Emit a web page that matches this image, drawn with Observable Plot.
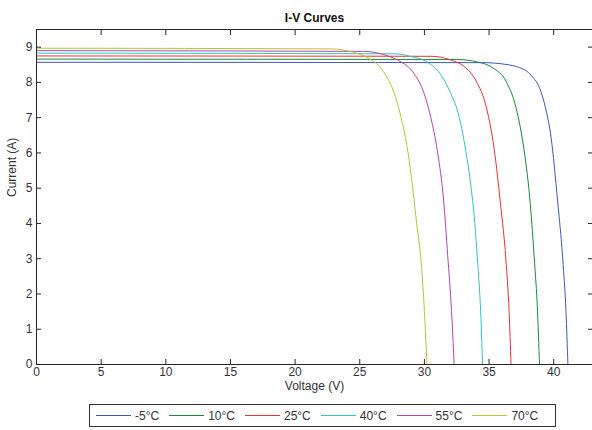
<!DOCTYPE html>
<html>
<head>
<meta charset="utf-8">
<script src="https://cdn.jsdelivr.net/npm/d3@7"></script>
<script src="https://cdn.jsdelivr.net/npm/@observablehq/plot@0.6"></script>
<style>
  html, body { margin: 0; padding: 0; background: #fff; }
  body { width: 592px; height: 430px; overflow: hidden; font-family: "Liberation Sans", Arial, sans-serif; }
  #legend { margin: 6px 0 0 89px; width: 459px; height: 21px; border: 1px solid #333;
            display: flex; align-items: center; padding-left: 6px; box-sizing: content-box;
            font-size: 12px; color: #333; }
  #legend .item { display: flex; align-items: center; margin-right: 10px; }
  #legend svg { margin-right: 4px; display: block; }
</style>
</head>
<body>
<div id="chart"></div>
<div id="legend"></div>
<script>
// Series labels and colours
const temps = ["-5°C", "10°C", "25°C", "40°C", "55°C", "70°C"];
const colors = ["#3f57c0", "#1a8a3c", "#f03030", "#2cc6c6", "#b046b0", "#c2c22c"];

// Voltage (V) / Current (A) points
const vM5 = [0, 34.5, 36.3, 37.35, 37.9, 38.4, 38.9, 39.35, 39.8, 40.3, 40.7, 40.95, 41.1];
const iM5 = [8.57, 8.56, 8.51, 8.42, 8.32, 8.14, 7.85, 7.3, 6.43, 4.64, 2.99, 1.5, 0];

const v10 = [0, 32.5, 34.1, 35.3, 36.3, 37.0, 37.35, 37.7, 38.2, 38.5, 38.75, 38.9];
const i10 = [8.66, 8.65, 8.58, 8.41, 8.04, 7.4, 6.85, 6.1, 4.5, 2.99, 1.5, 0];

const v25 = [0, 30.5, 32.0, 33.2, 34.0, 34.8, 35.4, 35.9, 36.3, 36.55, 36.7];
const i25 = [8.75, 8.74, 8.64, 8.41, 8.04, 7.28, 6.1, 4.5, 2.99, 1.5, 0];

const v40 = [0, 27.8, 29.0, 30.1, 31.2, 31.95, 32.7, 33.2, 33.55, 33.9, 34.1, 34.35, 34.5];
const i40 = [8.83, 8.81, 8.73, 8.6, 8.25, 7.76, 7.0, 6.06, 5.2, 4.0, 2.99, 1.5, 0];

const v55 = [0, 25.3, 27.1, 28.1, 29.1, 29.9, 30.5, 31.0, 31.5, 31.8, 32.1, 32.3];
const i55 = [8.9, 8.88, 8.76, 8.6, 8.3, 7.76, 7.0, 6.06, 4.6, 3.1, 1.5, 0];

const v70 = [0, 22.9, 24.2, 25.5, 26.8, 27.6, 28.2, 28.65, 29.0, 29.4, 29.75, 30.0, 30.2];
const i70 = [8.97, 8.95, 8.88, 8.72, 8.32, 7.76, 7.0, 6.2, 5.3, 4.0, 2.9, 1.5, 0];

const xTicks = [0, 5, 10, 15, 20, 25, 30, 35, 40];
const yTicks = [0, 1, 2, 3, 4, 5, 6, 7, 8, 9];

const seriesV = [vM5, v10, v25, v40, v55, v70];
const seriesI = [iM5, i10, i25, i40, i55, i70];
const rows = [];
temps.forEach((t, k) => seriesV[k].forEach((v, j) => rows.push({temp: t, V: v, I: seriesI[k][j]})));

const ink = "#262626";
const plot = Plot.plot({
  width: 592,
  height: 398,
  marginLeft: 36,
  marginRight: 0,
  marginTop: 29,
  marginBottom: 34,
  style: {fontSize: "12px", fontFamily: "'Liberation Sans', Arial, sans-serif", color: ink, background: "#fff"},
  x: {domain: [0, 43]},
  y: {domain: [0, 9.5]},
  color: {domain: temps, range: colors},
  marks: [
    Plot.line(rows, {x: "V", y: "I", z: "temp", stroke: "temp", strokeWidth: 1, curve: "monotone-x"}),
    Plot.frame({stroke: ink}),
    Plot.axisX(xTicks, {anchor: "bottom", tickSize: -5, tickPadding: 8, label: null, stroke: ink, fill: "#333"}),
    Plot.axisX(xTicks, {anchor: "top", tickSize: -5, tickFormat: () => "", label: null, stroke: ink}),
    Plot.axisY(yTicks, {anchor: "left", tickSize: -5, tickPadding: 9, label: null, stroke: ink, fill: "#333"}),
    Plot.axisY(yTicks, {anchor: "right", tickSize: -5, tickFormat: () => "", label: null, stroke: ink}),
    Plot.text(["I-V Curves"], {frameAnchor: "top", dy: -16, fontWeight: "bold", fill: "#111"}),
    Plot.text(["Voltage (V)"], {frameAnchor: "bottom", dy: 25, fill: "#333"}),
    Plot.text(["Current (A)"], {frameAnchor: "left", dx: -24, rotate: -90, fill: "#333"})
  ]
});
document.getElementById("chart").appendChild(plot);

const legend = document.getElementById("legend");
const NS = "http://www.w3.org/2000/svg";
temps.forEach((t, k) => {
  const it = document.createElement("div");
  it.className = "item";
  const sw = document.createElementNS(NS, "svg");
  sw.setAttribute("width", "35");
  sw.setAttribute("height", "5");
  const ln = document.createElementNS(NS, "line");
  ln.setAttribute("x1", "0"); ln.setAttribute("x2", "35");
  ln.setAttribute("y1", "2.5"); ln.setAttribute("y2", "2.5");
  ln.setAttribute("stroke", colors[k]);
  ln.setAttribute("stroke-width", "1");
  sw.appendChild(ln);
  const lab = document.createElement("span");
  lab.textContent = t;
  it.appendChild(sw);
  it.appendChild(lab);
  legend.appendChild(it);
});
</script>
</body>
</html>
